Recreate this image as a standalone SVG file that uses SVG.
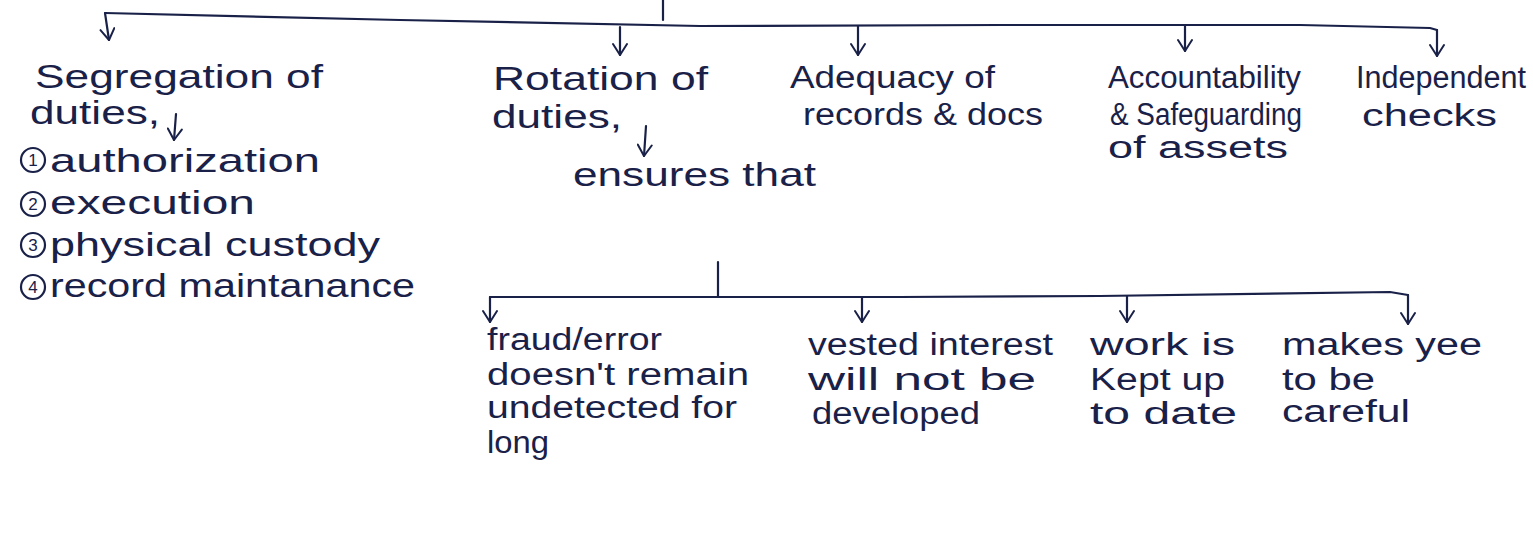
<svg xmlns="http://www.w3.org/2000/svg" width="1533" height="539" viewBox="0 0 1533 539">
<style>
  .t { font-family: "Liberation Sans", "DejaVu Sans", sans-serif; fill: #1a2148; font-size: 33px; }
  .s { font-size: 31px; }
  .c { fill: none; stroke: #1a2148; stroke-width: 2.2; stroke-linecap: round; stroke-linejoin: round; }
  .num { font-family: "Liberation Sans", sans-serif; fill: #1a2148; font-size: 17px; text-anchor: middle; }
</style>
<defs>
  <marker id="ah" viewBox="0 0 14 16" refX="13" refY="8" markerWidth="14" markerHeight="16" markerUnits="userSpaceOnUse" orient="auto">
    <path d="M2,1 L13,8 L2,15" fill="none" stroke="#1a2148" stroke-width="2" stroke-linecap="round" stroke-linejoin="round"/>
  </marker>
</defs>
<rect width="1533" height="539" fill="#ffffff"/>

<g id="connectors">
  <line class="c" x1="663" y1="0" x2="663" y2="20"/>
  <polyline class="c" points="105,13 400,20 700,26 1000,25 1300,25 1430,28 1437,30"/>
  <line class="c" x1="105" y1="13" x2="109" y2="40" marker-end="url(#ah)"/>
  <line class="c" x1="620" y1="27" x2="620" y2="55" marker-end="url(#ah)"/>
  <line class="c" x1="858" y1="26" x2="858" y2="55" marker-end="url(#ah)"/>
  <line class="c" x1="1185" y1="25" x2="1185" y2="51" marker-end="url(#ah)"/>
  <line class="c" x1="1437" y1="30" x2="1437" y2="56" marker-end="url(#ah)"/>
  <line class="c" x1="176" y1="114" x2="174" y2="140" marker-end="url(#ah)"/>
  <line class="c" x1="646" y1="126" x2="644" y2="156" marker-end="url(#ah)"/>
  <line class="c" x1="718" y1="262" x2="718" y2="297"/>
  <polyline class="c" points="490,297 900,297 1100,296 1390,292 1408,295"/>
  <line class="c" x1="490" y1="297" x2="490" y2="322" marker-end="url(#ah)"/>
  <line class="c" x1="862" y1="297" x2="862" y2="322" marker-end="url(#ah)"/>
  <line class="c" x1="1127" y1="296" x2="1127" y2="322" marker-end="url(#ah)"/>
  <line class="c" x1="1408" y1="295" x2="1408" y2="324" marker-end="url(#ah)"/>
</g>

<g id="segregation">
  <text class="t" x="35" y="88" textLength="288" lengthAdjust="spacingAndGlyphs">Segregation of</text>
  <text class="t" x="30" y="124" textLength="130" lengthAdjust="spacingAndGlyphs">duties,</text>
</g>
<g id="seg-list">
  <circle cx="33" cy="160" r="12" class="c"/><text class="num" x="33" y="166">1</text>
  <text class="t" x="50" y="172" textLength="270" lengthAdjust="spacingAndGlyphs">authorization</text>
  <circle cx="33" cy="204" r="12" class="c"/><text class="num" x="33" y="210">2</text>
  <text class="t" x="50" y="214" textLength="205" lengthAdjust="spacingAndGlyphs">execution</text>
  <circle cx="33" cy="245" r="12" class="c"/><text class="num" x="33" y="251">3</text>
  <text class="t" x="50" y="256" textLength="330" lengthAdjust="spacingAndGlyphs">physical custody</text>
  <circle cx="33" cy="287" r="12" class="c"/><text class="num" x="33" y="293">4</text>
  <text class="t" x="50" y="297" textLength="365" lengthAdjust="spacingAndGlyphs">record maintanance</text>
</g>

<g id="rotation">
  <text class="t" x="493" y="90" textLength="215" lengthAdjust="spacingAndGlyphs">Rotation of</text>
  <text class="t" x="492" y="128" textLength="130" lengthAdjust="spacingAndGlyphs">duties,</text>
</g>
<g id="ensures">
  <text class="t" x="573" y="186" textLength="243" lengthAdjust="spacingAndGlyphs">ensures that</text>
</g>

<g id="adequacy">
  <text class="t s" x="790" y="88" textLength="205" lengthAdjust="spacingAndGlyphs">Adequacy of</text>
  <text class="t s" x="803" y="125" textLength="240" lengthAdjust="spacingAndGlyphs">records &amp; docs</text>
</g>
<g id="accountability">
  <text class="t s" x="1108" y="88" textLength="193" lengthAdjust="spacingAndGlyphs">Accountability</text>
  <text class="t s" x="1110" y="125" textLength="192" lengthAdjust="spacingAndGlyphs">&amp; Safeguarding</text>
  <text class="t s" x="1108" y="158" textLength="180" lengthAdjust="spacingAndGlyphs">of assets</text>
</g>
<g id="independent">
  <text class="t s" x="1356" y="88" textLength="170" lengthAdjust="spacingAndGlyphs">Independent</text>
  <text class="t s" x="1362" y="126" textLength="135" lengthAdjust="spacingAndGlyphs">checks</text>
</g>

<g id="fraud">
  <text class="t s" x="487" y="350" textLength="175" lengthAdjust="spacingAndGlyphs">fraud/error</text>
  <text class="t s" x="487" y="385" textLength="262" lengthAdjust="spacingAndGlyphs">doesn't remain</text>
  <text class="t s" x="487" y="418" textLength="250" lengthAdjust="spacingAndGlyphs">undetected for</text>
  <text class="t s" x="487" y="453" textLength="62" lengthAdjust="spacingAndGlyphs">long</text>
</g>
<g id="vested">
  <text class="t s" x="808" y="355" textLength="245" lengthAdjust="spacingAndGlyphs">vested interest</text>
  <text class="t s" x="808" y="390" textLength="228" lengthAdjust="spacingAndGlyphs">will not be</text>
  <text class="t s" x="812" y="424" textLength="168" lengthAdjust="spacingAndGlyphs">developed</text>
</g>
<g id="work">
  <text class="t s" x="1090" y="355" textLength="145" lengthAdjust="spacingAndGlyphs">work is</text>
  <text class="t s" x="1090" y="390" textLength="135" lengthAdjust="spacingAndGlyphs">Kept up</text>
  <text class="t s" x="1090" y="424" textLength="147" lengthAdjust="spacingAndGlyphs">to date</text>
</g>
<g id="makes">
  <text class="t s" x="1282" y="355" textLength="200" lengthAdjust="spacingAndGlyphs">makes yee</text>
  <text class="t s" x="1282" y="390" textLength="93" lengthAdjust="spacingAndGlyphs">to be</text>
  <text class="t s" x="1282" y="422" textLength="128" lengthAdjust="spacingAndGlyphs">careful</text>
</g>
</svg>
